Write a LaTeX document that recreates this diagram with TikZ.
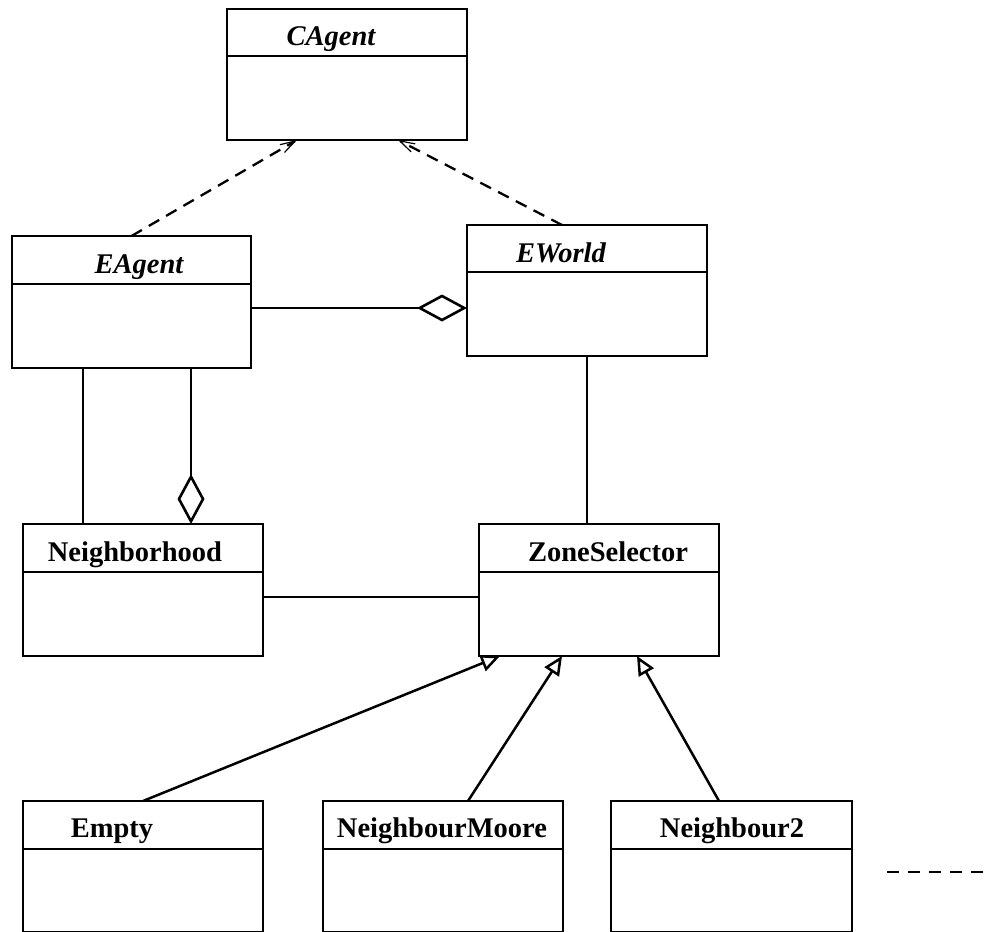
\documentclass[tikz,border=0pt]{standalone}
\usepackage{fontspec}
\setmainfont{Liberation Serif}
\usetikzlibrary{arrows.meta}

% #1 name, #2 left, #3 top, #4 right, #5 bottom, #6 divider, #7 title x, #8 title baseline, #9 title
\newcommand\classbox[9]{%
  \node[clsbox, minimum width={(#4-#2)*1pt}, minimum height={(#5-#3)*1pt}, anchor=north west] (#1) at (#2,-#3) {};
  \draw[clsrule] (#1.west |- 0,-#6) -- (#1.east |- 0,-#6);
  \node[clstitle] (#1-title) at (#7,-#8) {#9};
}

\begin{document}
\begin{tikzpicture}[x=1pt,y=1pt,
  clsbox/.style={rectangle, draw, line width=2.8pt, inner sep=0pt, outer sep=0pt},
  clsrule/.style={line width=2.8pt},
  clstitle/.style={anchor=base, inner sep=0pt, font=\fontsize{28.5}{34}\selectfont\bfseries},
  link/.style={line width=2.6pt},
  realize/.style={line width=2.3pt, dash pattern=on 12pt off 8pt,
    -{Straight Barb[length=15pt,width=9pt,line width=1.2pt]}},
  aggr/.style={line width=2.6pt, -{Diamond[open,length=50pt,width=27pt]}},
  inherit/.style={line width=2.5pt, -{Triangle[open,length=19pt,width=17pt]}},
  etc/.style={line width=2.3pt, dash pattern=on 12pt off 9pt},
]
\useasboundingbox (0,0) rectangle (991,-932);
\clip (0,0) rectangle (991,-932);

% classes
\classbox{cagent}{227}{9}{467}{140}{56}{331}{45}{\itshape CAgent}
\classbox{eagent}{12}{236}{251}{368}{284}{139}{273}{\itshape EAgent}
\classbox{eworld}{467}{225}{707}{356}{272}{561}{262}{\itshape EWorld}
\classbox{nbhood}{23}{524}{263}{656}{572}{135}{561}{Neighborhood}
\classbox{zonesel}{479}{524}{719}{656}{572}{608}{561}{ZoneSelector}
\classbox{empty}{23}{801}{263}{932}{849}{112}{837}{Empty}
\classbox{nmoore}{323}{801}{563}{932}{849}{442}{837}{NeighbourMoore}
\classbox{nbtwo}{611}{801}{852}{932}{849}{732}{837}{Neighbour2}

% realization of CAgent
\draw[realize] (eagent.north) -- ([xshift=-50pt]cagent.south);
\draw[realize] ([xshift=-25pt]eworld.north) -- ([xshift=51pt]cagent.south);

% associations and aggregations
\draw[aggr] ([yshift=-6pt]eagent.east) -- ([yshift=-6pt]eagent.east -| eworld.west);
\draw[link] ([xshift=-48.5pt]eagent.south) -- ([xshift=-48.5pt]eagent.south |- nbhood.north);
\draw[aggr] ([xshift=59.5pt]eagent.south) -- ([xshift=59.5pt]eagent.south |- nbhood.north);
\draw[link] (eworld.south) -- (eworld.south |- zonesel.north);
\draw[link] ([yshift=-7pt]nbhood.east) -- ([yshift=-7pt]nbhood.east -| zonesel.west);

% generalizations
\draw[inherit] (empty.north) -- ([xshift=-99pt]zonesel.south);
\draw[inherit] ([xshift=25pt]nmoore.north) -- ([xshift=-37pt]zonesel.south);
\draw[inherit] ([xshift=-12.5pt]nbtwo.north) -- ([xshift=38pt]zonesel.south);

% further subclasses
\coordinate (more-a) at (887,-872);
\coordinate (more-b) at (995,-872);
\draw[etc] (more-a) -- (more-b);
\end{tikzpicture}
\end{document}
